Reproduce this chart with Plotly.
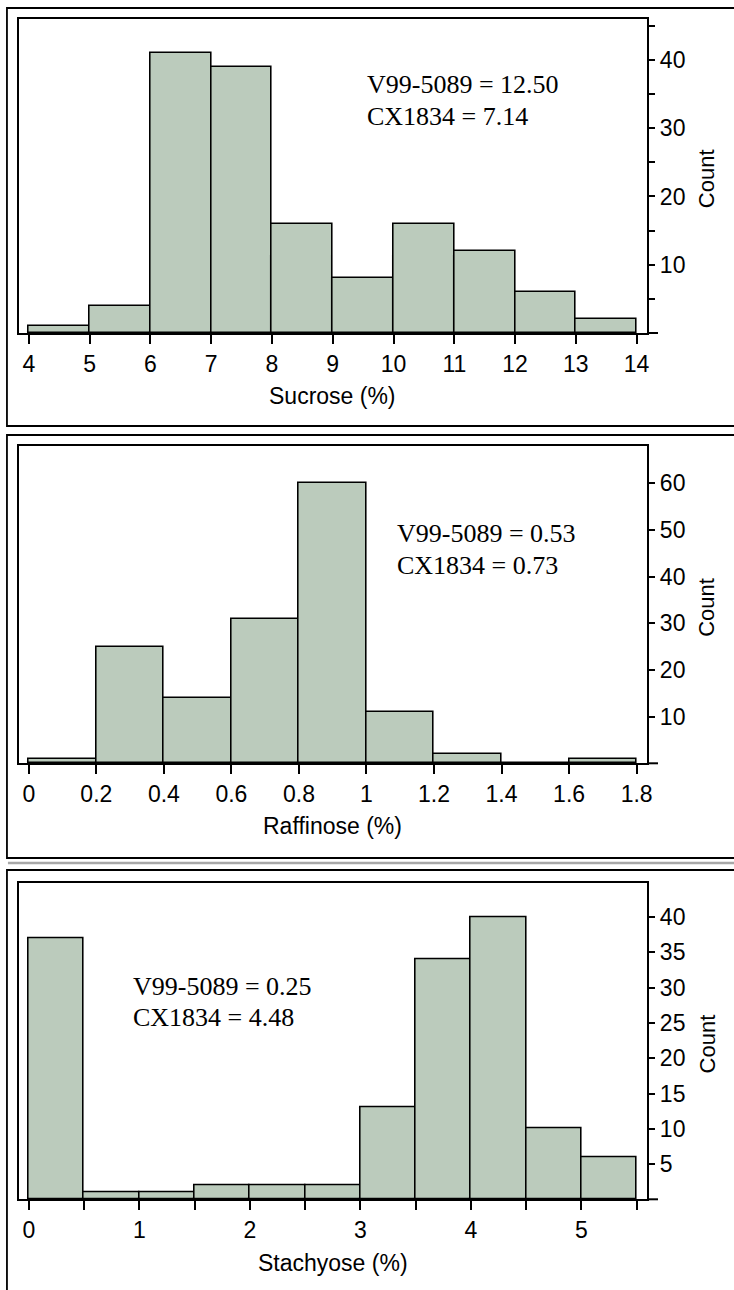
import plotly.graph_objects as go

# ---------------- data ----------------
sucrose_edges = [4, 5, 6, 7, 8, 9, 10, 11, 12, 13, 14]
sucrose_counts = [1, 4, 41, 39, 16, 8, 16, 12, 6, 2]
sucrose_ticks = [4, 5, 6, 7, 8, 9, 10, 11, 12, 13, 14]
sucrose_ylabels = [10, 20, 30, 40]
sucrose_yminor = [5, 15, 25, 35, 45]

raffinose_edges = [0, 0.2, 0.4, 0.6, 0.8, 1.0, 1.2, 1.4, 1.6, 1.8]
raffinose_counts = [1, 25, 14, 31, 60, 11, 2, 0, 1]
raffinose_ticks = [0, 0.2, 0.4, 0.6, 0.8, 1.0, 1.2, 1.4, 1.6, 1.8]
raffinose_ticktext = ["0", "0.2", "0.4", "0.6", "0.8", "1", "1.2", "1.4", "1.6", "1.8"]
raffinose_ylabels = [10, 20, 30, 40, 50, 60]

stachyose_edges = [0, 0.5, 1, 1.5, 2, 2.5, 3, 3.5, 4, 4.5, 5, 5.5]
stachyose_counts = [37, 1, 1, 2, 2, 2, 13, 34, 40, 10, 6]
stachyose_ticks = [0, 1, 2, 3, 4, 5]
stachyose_xminor = [0.5, 1.5, 2.5, 3.5, 4.5, 5.5]
stachyose_ylabels = [5, 10, 15, 20, 25, 30, 35, 40]

x_titles = ["Sucrose (%)", "Raffinose (%)", "Stachyose (%)"]
note_v = ["V99-5089 = 12.50", "V99-5089 = 0.53", "V99-5089 = 0.25"]
note_c = ["CX1834 = 7.14", "CX1834 = 0.73", "CX1834 = 4.48"]

# ---------------- layout helpers ----------------
W, H = 734, 1290
def fx(p):
    return p / W
def fy(p):
    return 1 - p / H

FILL = "#bbcbbc"
SANS = "Liberation Sans, Arial, sans-serif"
SERIF = "Liberation Serif, Times New Roman, serif"
TICKFONT = dict(family=SANS, size=23, color="black")

PLOT_L, PLOT_R = 18.7, 651.7
panels = [
    dict(top=19, bottom=333, xr=[3.83, 14.175], ytop=46.0, otop=8, obot=426,
         nx=367, ny1=84, ny2=116, titley=396),
    dict(top=446, bottom=763.3, xr=[-0.0303, 1.8315], ytop=68.0, otop=435, obot=858,
         nx=398, ny1=533, ny2=565, titley=826),
    dict(top=883.3, bottom=1199.3, xr=[-0.0926, 5.596], ytop=44.8, otop=870, obot=1310,
         nx=132, ny1=986, ny2=1017, titley=1263),
]

datasets = [
    (sucrose_edges, sucrose_counts),
    (raffinose_edges, raffinose_counts),
    (stachyose_edges, stachyose_counts),
]

fig = go.Figure()
for i, (edges, counts) in enumerate(datasets):
    n = "" if i == 0 else str(i + 1)
    centers = [(a + b) / 2 for a, b in zip(edges[:-1], edges[1:])]
    widths = [b - a for a, b in zip(edges[:-1], edges[1:])]
    fig.add_trace(go.Bar(
        x=centers, y=counts, width=widths,
        marker=dict(color=FILL, line=dict(color="black", width=1.6)),
        xaxis="x" + n, yaxis="y" + n, showlegend=False, hoverinfo="skip",
    ))

layout = dict(
    width=W, height=H, margin=dict(l=0, r=0, t=0, b=0),
    paper_bgcolor="white", plot_bgcolor="white", bargap=0,
    showlegend=False,
)

xtick_specs = [
    dict(tickvals=sucrose_ticks, ticktext=[str(v) for v in sucrose_ticks]),
    dict(tickvals=raffinose_ticks, ticktext=raffinose_ticktext),
    dict(tickvals=stachyose_ticks, ticktext=[str(v) for v in stachyose_ticks],
         minor=dict(tickvals=stachyose_xminor, ticks="outside", ticklen=9,
                    tickwidth=1.5, tickcolor="black")),
]
ytick_specs = [
    dict(tickvals=sucrose_ylabels,
         minor=dict(tickvals=sucrose_yminor, ticks="outside", ticklen=6,
                    tickwidth=1.5, tickcolor="black")),
    dict(tickvals=raffinose_ylabels),
    dict(tickvals=stachyose_ylabels),
]

shapes = []
annotations = []
for i, p in enumerate(panels):
    n = "" if i == 0 else str(i + 1)
    xa = dict(
        domain=[fx(PLOT_L), fx(PLOT_R)], anchor="y" + n, range=p["xr"],
        ticks="outside", ticklen=9, tickwidth=1.5, tickcolor="black",
        showline=True, linewidth=2, linecolor="black", mirror=True,
        showgrid=False, zeroline=False, tickfont=TICKFONT,
        tickmode="array",
    )
    xa.update(xtick_specs[i])
    ya = dict(
        domain=[fy(p["bottom"]), fy(p["top"])], anchor="x" + n, side="right",
        range=[0, p["ytop"]],
        ticks="outside", ticklen=6, tickwidth=1.5, tickcolor="black",
        showline=True, linewidth=2, linecolor="black", mirror=True,
        showgrid=False, zeroline=False, tickfont=TICKFONT, tickmode="array",
    )
    ya.update(ytick_specs[i])
    layout["xaxis" + n] = xa
    layout["yaxis" + n] = ya

    shapes.append(dict(type="rect", xref="paper", yref="paper",
                       x0=fx(7), x1=fx(745), y0=fy(p["obot"]), y1=fy(p["otop"]),
                       line=dict(color="black", width=1.8), fillcolor="rgba(0,0,0,0)",
                       layer="below"))
    shapes.append(dict(type="line", xref="paper", yref="paper",
                       x0=fx(PLOT_R), x1=fx(662.5), y0=fy(p["bottom"]), y1=fy(p["bottom"]),
                       line=dict(color="black", width=2)))

    annotations.append(dict(text=x_titles[i], xref="paper", yref="paper",
                            x=fx((PLOT_L + PLOT_R) / 2), y=fy(p["titley"]),
                            xanchor="center", yanchor="middle", showarrow=False,
                            font=dict(family=SANS, size=23, color="black")))
    annotations.append(dict(text="Count", xref="paper", yref="paper",
                            x=fx(712), y=fy((p["top"] + p["bottom"]) / 2 + 3),
                            xanchor="center", yanchor="middle", showarrow=False,
                            textangle=-90,
                            font=dict(family=SANS, size=22, color="black")))
    for txt, yy in ((note_v[i], p["ny1"]), (note_c[i], p["ny2"])):
        annotations.append(dict(text=txt, xref="paper", yref="paper",
                                x=fx(p["nx"]), y=fy(yy), xanchor="left", yanchor="middle",
                                showarrow=False,
                                font=dict(family=SERIF, size=26, color="black")))

shapes.append(dict(type="line", xref="paper", yref="paper",
                   x0=fx(8), x1=fx(745), y0=fy(863), y1=fy(863),
                   line=dict(color="#a8a8a8", width=2.5)))

layout["shapes"] = shapes
layout["annotations"] = annotations
fig.update_layout(**layout)

fig.write_html("out.html", include_plotlyjs=True, config={"displayModeBar": False},
               post_script="document.body.style.margin='0';document.body.style.overflow='hidden';")
